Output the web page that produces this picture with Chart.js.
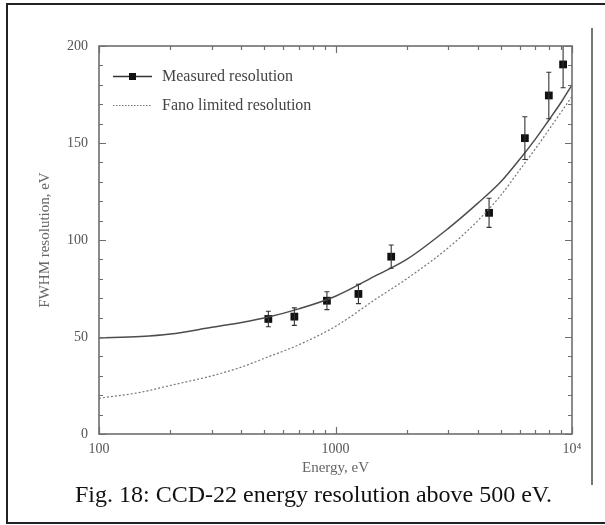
<!DOCTYPE html>
<html>
<head>
<meta charset="utf-8">
<script src="https://cdn.jsdelivr.net/npm/chart.js@4.4.0/dist/chart.umd.min.js"></script>
<style>
    html, body { margin: 0; padding: 0; background: #fff; }
    #pagina { position: relative; width: 605px; height: 525px; overflow: hidden; background: #fff; }
    #grafico { position: absolute; left: 0; top: 0; }
    .linea { position: absolute; background: #222; }
    #pie { position: absolute; left: 75px; top: 482px; font: 24px/24px "Liberation Serif", "Times New Roman", serif; color: #111; white-space: nowrap; }
</style>
</head>
<body>
<div id="pagina">
    <canvas id="grafico" width="605" height="525"></canvas>
    <div class="linea" style="left:6px;top:3px;width:599px;height:2px"></div>
    <div class="linea" style="left:6px;top:3px;width:2px;height:521px"></div>
    <div class="linea" style="left:6px;top:522px;width:599px;height:2px"></div>
    <div class="linea" style="left:591px;top:28px;width:2px;height:457px;background:#777"></div>
    <div id="pie">Fig. 18: CCD-22 energy resolution above 500 eV.</div>
</div>
<script>
(function () {
    'use strict';

    // Puntos medidos: energía (eV), FWHM (eV) y barra de error (±eV)
    var energiaMedida = [520, 670, 920, 1250, 1720, 4460, 6320, 7980, 9170];
    var fwhmMedida = [59.3, 60.5, 68.7, 72.2, 91.4, 114, 152.5, 174.5, 190.5];
    var errorMedida = [4, 4.5, 4.6, 5, 6, 7.5, 11, 12, 12];

    // Curvas: ajuste de la resolución medida y límite de Fano
    var energiaCurva = [100, 150, 200, 300, 400, 500, 700, 1000, 1500, 2000, 3000, 4000, 5000, 6000, 7000, 8000, 9000, 10000];
    var fwhmAjuste = [49.5, 50.2, 51.5, 55, 57.5, 59.8, 64.5, 71, 82, 90, 106, 119, 130, 141.5, 152, 162, 171, 180];
    var fwhmFano = [18.4, 21.5, 25, 30, 34.5, 39, 46, 55.5, 70, 80, 96, 110, 123, 136, 147, 157, 166, 174];

    // Marcas de los ejes
    var ticksX = [100, 1000, 10000];
    var etiquetasX = ['100', '1000', '10\u2074'];
    var ticksXMenores = [200, 300, 400, 500, 600, 700, 800, 900, 2000, 3000, 4000, 5000, 6000, 7000, 8000, 9000];
    var ticksY = [0, 50, 100, 150, 200];
    var ticksYMenores = [10, 20, 30, 40, 60, 70, 80, 90, 110, 120, 130, 140, 160, 170, 180, 190];

    var fuenteSerif = '"Liberation Serif", "Times New Roman", serif';

    function pares(xs, ys) {
        return xs.map(function (x, i) { return { x: x, y: ys[i] }; });
    }

    // Marco del área y marcas hacia dentro
    var marcoEjes = {
        id: 'marcoEjes',
        afterDatasetsDraw: function (chart) {
            var ctx = chart.ctx, a = chart.chartArea;
            var ex = chart.scales.x, ey = chart.scales.y;
            ctx.save();
            ctx.strokeStyle = '#6e6e6e';
            ctx.lineWidth = 1.2;
            ctx.beginPath();
            function marcaX(v, largo) {
                var px = Math.round(ex.getPixelForValue(v)) + 0.5;
                ctx.moveTo(px, a.bottom); ctx.lineTo(px, a.bottom - largo);
                ctx.moveTo(px, a.top); ctx.lineTo(px, a.top + largo);
            }
            function marcaY(v, largo) {
                var py = Math.round(ey.getPixelForValue(v)) + 0.5;
                ctx.moveTo(a.left, py); ctx.lineTo(a.left + largo, py);
                ctx.moveTo(a.right, py); ctx.lineTo(a.right - largo, py);
            }
            ticksX.forEach(function (v) { marcaX(v, 7); });
            ticksXMenores.forEach(function (v) { marcaX(v, 4); });
            ticksY.forEach(function (v) { marcaY(v, 7); });
            ticksYMenores.forEach(function (v) { marcaY(v, 4); });
            ctx.stroke();
            ctx.lineWidth = 1.6;
            ctx.strokeRect(a.left, a.top, a.right - a.left, a.bottom - a.top);
            ctx.restore();
        }
    };

    // Barras de error de los puntos medidos
    var barrasError = {
        id: 'barrasError',
        afterDatasetsDraw: function (chart) {
            var ctx = chart.ctx, a = chart.chartArea;
            var ex = chart.scales.x, ey = chart.scales.y;
            ctx.save();
            ctx.beginPath();
            ctx.rect(a.left, a.top, a.right - a.left, a.bottom - a.top);
            ctx.clip();
            ctx.strokeStyle = '#333';
            ctx.lineWidth = 1.1;
            ctx.beginPath();
            energiaMedida.forEach(function (e, i) {
                var px = ex.getPixelForValue(e);
                var arriba = ey.getPixelForValue(fwhmMedida[i] + errorMedida[i]);
                var abajo = ey.getPixelForValue(fwhmMedida[i] - errorMedida[i]);
                ctx.moveTo(px, arriba); ctx.lineTo(px, abajo);
                ctx.moveTo(px - 2.5, arriba); ctx.lineTo(px + 2.5, arriba);
                ctx.moveTo(px - 2.5, abajo); ctx.lineTo(px + 2.5, abajo);
            });
            ctx.stroke();
            ctx.restore();
        }
    };

    // Leyenda dentro del área del gráfico
    var leyenda = {
        id: 'leyendaInterna',
        afterDraw: function (chart) {
            var ctx = chart.ctx, a = chart.chartArea;
            var x0 = a.left + 14, x1 = a.left + 53, xt = a.left + 63;
            var y1 = a.top + 30.5, y2 = a.top + 59.5;
            ctx.save();
            ctx.strokeStyle = '#333';
            ctx.lineWidth = 1.5;
            ctx.beginPath(); ctx.moveTo(x0, y1); ctx.lineTo(x1, y1); ctx.stroke();
            ctx.fillStyle = '#111';
            ctx.fillRect(a.left + 30, y1 - 3.5, 7, 7);
            ctx.strokeStyle = '#777';
            ctx.lineWidth = 1;
            ctx.setLineDash([1.5, 1.5]);
            ctx.beginPath(); ctx.moveTo(x0, y2); ctx.lineTo(x1, y2); ctx.stroke();
            ctx.setLineDash([]);
            ctx.fillStyle = '#444';
            ctx.font = '16px ' + fuenteSerif;
            ctx.textBaseline = 'middle';
            ctx.fillText('Measured resolution', xt, y1);
            ctx.fillText('Fano limited resolution', xt, y2);
            ctx.restore();
        }
    };

    var canvas = document.getElementById('grafico');
    new Chart(canvas.getContext('2d'), {
        type: 'line',
        data: {
            datasets: [{
                label: 'Measured resolution (fit)',
                data: pares(energiaCurva, fwhmAjuste),
                borderColor: '#4d4d4d',
                borderWidth: 1.5,
                pointRadius: 0,
                cubicInterpolationMode: 'monotone',
                fill: false
            }, {
                label: 'Fano limited resolution',
                data: pares(energiaCurva, fwhmFano),
                borderColor: '#777',
                borderWidth: 1.2,
                borderDash: [2, 2],
                pointRadius: 0,
                cubicInterpolationMode: 'monotone',
                fill: false
            }, {
                type: 'scatter',
                label: 'Measured resolution',
                data: pares(energiaMedida, fwhmMedida),
                pointStyle: 'rect',
                pointRadius: 5.5,
                backgroundColor: '#111',
                borderColor: '#111',
                borderWidth: 0,
                showLine: false
            }]
        },
        options: {
            responsive: false,
            animation: false,
            events: [],
            layout: { padding: { left: 32, top: 46, right: 33, bottom: 44 } },
            plugins: {
                legend: { display: false },
                tooltip: { enabled: false }
            },
            scales: {
                x: {
                    type: 'logarithmic',
                    min: 100,
                    max: 10000,
                    grid: { display: false, drawTicks: false },
                    border: { display: false },
                    afterBuildTicks: function (scale) {
                        scale.ticks = ticksX.map(function (v) { return { value: v }; });
                    },
                    afterFit: function (scale) { scale.height = 47; },
                    ticks: {
                        autoSkip: false,
                        maxRotation: 0,
                        padding: 7,
                        color: '#555',
                        font: { family: fuenteSerif, size: 14 },
                        callback: function (v) {
                            var i = ticksX.indexOf(v);
                            return i >= 0 ? etiquetasX[i] : '';
                        }
                    },
                    title: {
                        display: true,
                        text: 'Energy, eV',
                        color: '#666',
                        font: { family: fuenteSerif, size: 15 },
                        padding: { top: 2, bottom: 4 }
                    }
                },
                y: {
                    min: 0,
                    max: 200,
                    grid: { display: false, drawTicks: false },
                    border: { display: false },
                    afterBuildTicks: function (scale) {
                        scale.ticks = ticksY.map(function (v) { return { value: v }; });
                    },
                    afterFit: function (scale) { scale.width = 67; },
                    ticks: {
                        padding: 11,
                        color: '#555',
                        font: { family: fuenteSerif, size: 14 }
                    },
                    title: {
                        display: true,
                        text: 'FWHM resolution, eV',
                        color: '#666',
                        font: { family: fuenteSerif, size: 15 },
                        padding: { top: 4, bottom: 4 }
                    }
                }
            }
        },
        plugins: [barrasError, marcoEjes, leyenda]
    });
})();
</script>
</body>
</html>
